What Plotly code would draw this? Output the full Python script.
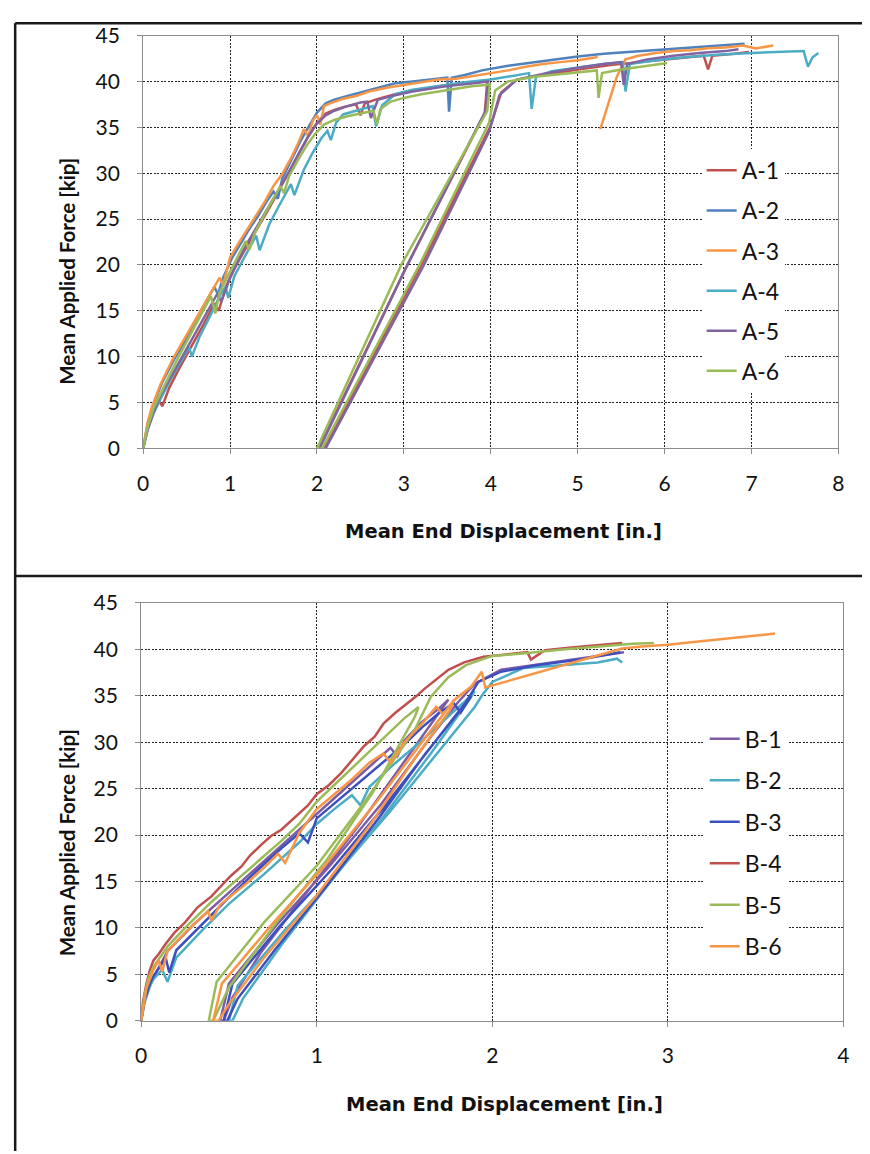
import plotly.graph_objects as go

W, H = 870, 1154

# ---------------- Panel A data ----------------
a1_x = [0, 0.04, 0.1, 0.18, 0.22, 0.3, 0.42, 0.55, 0.7, 0.82, 0.87, 0.95, 1.05, 1.15, 1.25, 1.35, 1.45, 1.55, 1.65, 1.72, 1.8, 1.9, 2.0, 2.1, 2.2, 2.3, 2.45, 2.5, 2.55, 2.7, 2.9, 3.1, 3.3, 3.5, 3.7, 3.85, 3.96, 3.93, 3.04, 2.02, 2.08, 3.2, 4.0, 4.12, 4.3, 4.6, 5.0, 5.4, 5.8, 6.2, 6.45, 6.5, 6.55, 6.8, 6.97]
a1_y = [0, 1.8, 3.8, 5.2, 4.6, 6.6, 8.8, 11.0, 13.6, 15.8, 15.0, 17.6, 19.6, 21.3, 22.9, 24.6, 26.2, 27.9, 29.7, 30.8, 32.3, 34.0, 35.5, 36.5, 36.9, 37.2, 37.5, 36.3, 37.6, 38.1, 38.6, 39.0, 39.3, 39.6, 39.8, 40.0, 40.1, 36.5, 20.0, 0, 0, 20.0, 35.2, 38.8, 40.2, 40.7, 41.3, 41.8, 42.2, 42.6, 42.8, 41.3, 42.8, 43.0, 43.2]

a2_x = [0, 0.05, 0.12, 0.22, 0.35, 0.48, 0.6, 0.72, 0.82, 0.86, 0.92, 1.02, 1.12, 1.22, 1.32, 1.42, 1.5, 1.55, 1.6, 1.7, 1.8, 1.9, 2.0, 2.1, 2.2, 2.35, 2.5, 2.7, 2.9, 3.1, 3.3, 3.5, 3.52, 3.55, 3.7, 3.9, 4.2, 4.5, 4.8, 5.0, 5.3, 5.6, 6.0, 6.3, 6.6, 6.92]
a2_y = [0, 2.6, 4.9, 7.2, 9.6, 11.7, 13.9, 16.0, 17.6, 16.8, 18.6, 20.7, 22.3, 23.9, 25.3, 26.9, 28.0, 27.2, 29.4, 31.4, 33.3, 35.0, 36.6, 37.6, 38.0, 38.4, 38.8, 39.3, 39.8, 40.0, 40.2, 40.4, 36.7, 40.4, 40.7, 41.2, 41.7, 42.1, 42.5, 42.7, 43.0, 43.2, 43.5, 43.7, 43.9, 44.1]

a3_x = [0, 0.05, 0.1, 0.2, 0.35, 0.5, 0.65, 0.8, 0.88, 0.92, 1.0, 1.1, 1.2, 1.3, 1.4, 1.5, 1.6, 1.7, 1.78, 1.85, 1.9, 1.95, 2.0, 2.04, 2.08, 2.15, 2.3, 2.45, 2.6, 2.8, 3.0, 3.2, 3.4, 3.6, 3.8, 4.0, 4.2, 4.4, 4.6, 4.8, 5.0, 5.2, 5.23, None, 5.26, 5.45, 5.55, 5.7, 5.9, 6.1, 6.3, 6.5, 6.7, 6.9, 7.05, 7.25]
a3_y = [0, 2.8, 4.5, 7.0, 9.9, 12.4, 14.9, 17.4, 18.6, 17.8, 20.8, 22.4, 23.9, 25.4, 26.9, 28.6, 29.9, 31.6, 33.2, 34.8, 34.0, 35.7, 36.3, 35.3, 37.3, 37.6, 38.1, 38.4, 38.9, 39.3, 39.6, 39.9, 40.2, 40.3, 40.6, 40.9, 41.2, 41.6, 41.9, 42.1, 42.3, 42.6, 42.7, None, 34.8, 40.5, 42.4, 42.8, 43.1, 43.3, 43.4, 43.6, 43.7, 43.9, 43.6, 43.9]

a4_x = [0, 0.05, 0.12, 0.2, 0.32, 0.45, 0.53, 0.56, 0.65, 0.78, 0.9, 0.95, 0.98, 1.05, 1.15, 1.25, 1.3, 1.34, 1.45, 1.55, 1.65, 1.7, 1.74, 1.85, 1.95, 2.05, 2.12, 2.16, 2.22, 2.3, 2.45, 2.6, 2.64, 2.68, 2.75, 2.9, 3.1, 3.4, 3.7, 4.0, 4.3, 4.44, 4.47, 4.52, 4.7, 5.0, 5.3, 5.52, 5.55, 5.6, 5.9, 6.2, 6.6, 7.0, 7.3, 7.6, 7.65, 7.7, 7.77]
a4_y = [0, 2.0, 3.8, 5.4, 7.6, 9.8, 11.0, 10.0, 12.2, 14.6, 17.0, 17.6, 16.4, 18.8, 20.6, 22.4, 23.2, 21.6, 24.4, 26.2, 28.0, 28.8, 27.6, 30.4, 32.2, 33.8, 34.6, 33.6, 35.5, 36.4, 36.8, 37.2, 37.3, 35.1, 37.4, 38.6, 39.1, 39.5, 39.9, 40.2, 40.7, 40.9, 37.0, 40.5, 41.1, 41.5, 41.9, 42.1, 38.9, 41.9, 42.3, 42.6, 42.9, 43.1, 43.2, 43.3, 41.6, 42.6, 43.1]

a5_x = [0, 0.05, 0.12, 0.2, 0.32, 0.45, 0.6, 0.75, 0.85, 0.9, 1.0, 1.1, 1.2, 1.3, 1.4, 1.5, 1.6, 1.7, 1.8, 1.9, 2.0, 2.1, 2.2, 2.35, 2.5, 2.58, 2.62, 2.7, 2.9, 3.1, 3.3, 3.5, 3.7, 3.9, 3.97, 3.94, 3.02, 2.03, 2.1, 3.22, 3.98, 4.1, 4.3, 4.6, 5.0, 5.3, 5.5, 5.53, 5.57, 5.8, 6.1, 6.4, 6.7, 6.85]
a5_y = [0, 2.0, 4.0, 5.8, 7.8, 10.0, 12.6, 15.2, 16.8, 16.0, 18.6, 20.6, 22.4, 24.0, 25.6, 27.2, 28.8, 30.5, 32.3, 34.0, 35.4, 36.3, 36.8, 37.3, 37.7, 37.8, 36.0, 38.0, 38.5, 38.9, 39.2, 39.5, 39.7, 39.9, 40.0, 36.8, 19.6, 0, 0, 19.8, 34.5, 38.5, 40.2, 40.8, 41.5, 41.9, 42.1, 39.6, 41.9, 42.4, 42.8, 43.1, 43.3, 43.5]

a6_x = [0, 0.05, 0.12, 0.2, 0.3, 0.42, 0.55, 0.68, 0.78, 0.83, 0.88, 0.98, 1.08, 1.18, 1.22, 1.28, 1.38, 1.48, 1.58, 1.62, 1.68, 1.78, 1.88, 1.98, 2.08, 2.2, 2.35, 2.5, 2.65, 2.69, 2.73, 2.85, 3.0, 3.2, 3.4, 3.6, 3.8, 3.95, 3.99, 3.96, 2.97, 2.0, 2.06, 3.18, 3.98, 4.05, 4.2, 4.5, 4.8, 5.1, 5.22, 5.24, 5.28, 5.5, 5.8, 6.03]
a6_y = [0, 2.3, 4.4, 6.0, 7.9, 10.2, 12.5, 14.9, 16.6, 14.7, 17.0, 18.9, 20.8, 22.6, 21.6, 23.4, 25.2, 26.9, 28.6, 27.8, 29.7, 31.4, 33.0, 34.3, 35.3, 35.8, 36.2, 36.5, 36.8, 35.3, 37.0, 37.8, 38.2, 38.6, 38.9, 39.2, 39.5, 39.6, 39.7, 36.8, 20.0, 0, 0, 20.0, 35.5, 39.0, 40.0, 40.5, 40.8, 41.1, 41.2, 38.2, 40.9, 41.3, 41.7, 42.0]

# ---------------- Panel B data ----------------
b1_x = [0, 0.02, 0.05, 0.08, 0.15, 0.3, 0.5, 0.7, 0.9, 1.0, 1.1, 1.2, 1.3, 1.42, 1.46, 1.5, 1.6, 1.7, 1.75, 1.72, 1.5, 1.25, 0.95, 0.68, 0.52, 0.47, 0.45, 0.5, 0.77, 1.07, 1.37, 1.65, 1.8, 1.9, 2.05, 2.2, 2.4, 2.6, 2.75]
b1_y = [0, 2.5, 4.2, 5.0, 7.5, 10.4, 13.8, 17.2, 20.6, 22.3, 23.9, 25.6, 27.4, 29.4, 28.5, 30.2, 32.2, 33.7, 34.6, 33.8, 28.0, 21.3, 14.0, 7.3, 2.5, 0, 0, 4.0, 10.3, 16.6, 23.4, 30.6, 34.2, 36.3, 37.8, 38.2, 38.8, 39.3, 39.7]

b2_x = [0, 0.02, 0.05, 0.07, 0.12, 0.15, 0.2, 0.35, 0.5, 0.7, 0.9, 1.0, 1.1, 1.2, 1.25, 1.3, 1.45, 1.6, 1.75, 1.85, 1.9, 1.87, 1.65, 1.38, 1.08, 0.8, 0.58, 0.52, 0.5, 0.55, 0.82, 1.12, 1.42, 1.72, 1.9, 1.94, 2.0, 2.18, 2.4, 2.6, 2.71, 2.74]
b2_y = [0, 2.0, 3.7, 4.5, 5.5, 4.2, 6.8, 9.8, 12.6, 15.8, 19.2, 21.2, 22.8, 24.3, 23.2, 25.2, 27.8, 30.2, 32.8, 34.5, 35.5, 34.6, 28.8, 22.0, 15.0, 8.2, 2.4, 0, 0, 3.8, 9.8, 16.0, 22.6, 29.6, 33.8, 35.0, 36.5, 38.0, 38.3, 38.6, 39.0, 38.6]

b3_x = [0, 0.02, 0.05, 0.07, 0.14, 0.16, 0.2, 0.35, 0.5, 0.65, 0.8, 0.9, 0.95, 1.0, 1.15, 1.3, 1.4, 1.5, 1.6, 1.7, 1.78, 1.82, 1.88, 1.85, 1.62, 1.36, 1.06, 0.76, 0.55, 0.49, 0.47, 0.52, 0.79, 1.09, 1.39, 1.68, 1.85, 1.92, 2.05, 2.25, 2.5, 2.73]
b3_y = [0, 2.3, 4.0, 4.8, 6.8, 5.2, 7.6, 10.5, 13.3, 16.0, 18.6, 20.2, 19.2, 21.8, 24.2, 26.6, 28.2, 29.8, 31.6, 33.2, 34.2, 33.2, 35.0, 34.2, 28.8, 22.0, 14.6, 7.6, 2.4, 0, 0, 4.0, 10.2, 16.4, 23.2, 30.2, 34.3, 36.5, 37.6, 38.3, 38.9, 39.7]

b4_x = [0, 0.01, 0.03, 0.05, 0.07, 0.1, 0.14, 0.19, 0.25, 0.32, 0.4, 0.46, 0.51, 0.57, 0.62, 0.68, 0.74, 0.8, 0.89, 0.95, 1.0, 1.07, 1.14, 1.2, 1.27, 1.33, 1.38, 1.45, 1.52, 1.57, 1.61, 1.68, 1.75, 1.84, 1.95, 2.05, 2.15, 2.2, 2.22, 2.3, 2.45, 2.6, 2.74]
b4_y = [0, 2.0, 4.0, 5.5, 6.5, 7.2, 8.3, 9.5, 10.6, 12.2, 13.4, 14.6, 15.6, 16.6, 17.8, 18.9, 19.9, 20.6, 22.1, 23.2, 24.4, 25.4, 26.7, 28.0, 29.6, 30.6, 32.0, 33.2, 34.2, 35.0, 35.7, 36.8, 37.8, 38.6, 39.2, 39.4, 39.6, 39.7, 38.9, 39.9, 40.2, 40.5, 40.7]

b5_x = [0, 0.02, 0.04, 0.07, 0.15, 0.25, 0.4, 0.55, 0.7, 0.8, 0.9, 1.0, 1.1, 1.2, 1.3, 1.4, 1.5, 1.58, 1.56, 1.32, 1.06, 0.77, 0.5, 0.41, 0.385, 0.43, 0.7, 1.0, 1.27, 1.56, 1.65, 1.75, 1.85, 2.0, 2.2, 2.4, 2.6, 2.8, 2.92]
b5_y = [0, 2.8, 4.5, 5.8, 8.0, 10.0, 12.8, 15.3, 17.8, 19.4, 21.2, 23.6, 25.4, 27.2, 29.0, 30.8, 32.6, 33.8, 32.8, 24.6, 17.4, 10.6, 3.6, 0, 0, 4.2, 10.6, 16.7, 23.5, 31.4, 34.9, 37.0, 38.3, 39.3, 39.6, 40.0, 40.3, 40.6, 40.7]

b6_x = [0, 0.02, 0.03, 0.07, 0.1, 0.12, 0.15, 0.25, 0.38, 0.4, 0.45, 0.6, 0.7, 0.78, 0.82, 0.9, 1.0, 1.1, 1.2, 1.3, 1.38, 1.42, 1.5, 1.6, 1.68, 1.72, 1.78, 1.76, 1.55, 1.3, 1.0, 0.7, 0.5, 0.44, 0.41, 0.46, 0.75, 1.05, 1.35, 1.62, 1.78, 1.88, 1.94, 1.96, 2.74, 2.85, 3.0, 3.2, 3.4, 3.61]
b6_y = [0, 2.2, 3.5, 5.5, 6.5, 5.3, 7.5, 9.5, 11.8, 10.8, 12.5, 14.8, 16.5, 18.0, 17.0, 20.2, 22.8, 24.4, 26.0, 27.8, 28.8, 27.8, 30.0, 32.0, 33.8, 33.0, 34.5, 33.5, 28.0, 21.0, 13.5, 6.8, 1.8, 0, 0, 4.0, 10.5, 16.8, 23.8, 30.5, 34.5, 36.0, 37.6, 35.9, 40.1, 40.3, 40.5, 40.9, 41.3, 41.7]

a_names = ["A-1", "A-2", "A-3", "A-4", "A-5", "A-6"]
b_names = ["B-1", "B-2", "B-3", "B-4", "B-5", "B-6"]
a_colors = ["#C0504D", "#4F81BD", "#F79646", "#4BACC6", "#8064A2", "#9BBB59"]
b_colors = ["#7D5BA6", "#4BACC6", "#3B4FBF", "#C0504D", "#9BBB59", "#F79646"]
a_data = [(a1_x, a1_y), (a2_x, a2_y), (a3_x, a3_y), (a4_x, a4_y), (a5_x, a5_y), (a6_x, a6_y)]
b_data = [(b1_x, b1_y), (b2_x, b2_y), (b3_x, b3_y), (b4_x, b4_y), (b5_x, b5_y), (b6_x, b6_y)]

x_ticks_a = [0, 1, 2, 3, 4, 5, 6, 7, 8]
x_ticks_b = [0, 1, 2, 3, 4]
y_ticks = [0, 5, 10, 15, 20, 25, 30, 35, 40, 45]

FONT = "Lato"

fig = go.Figure()
for name, col, (xs, ys) in zip(a_names, a_colors, a_data):
    fig.add_trace(go.Scatter(x=xs, y=ys, mode="lines", name=name,
                             line=dict(color=col, width=2.5),
                             xaxis="x", yaxis="y", legend="legend", legendgroup=name))
for name, col, (xs, ys) in zip(b_names, b_colors, b_data):
    fig.add_trace(go.Scatter(x=xs, y=ys, mode="lines", name=name,
                             line=dict(color=col, width=2.5),
                             xaxis="x2", yaxis="y2", legend="legend2", legendgroup=name))


# map a target position in the photographed page to figure (paper) coordinates
def fx(p):
    return (p - 6.4) / 0.983 - 8


def fy(p):
    return (p - 12.6) / 0.981 - 8


def px_x(p):
    return fx(p) / W


def px_y(p):
    return 1 - fy(p) / H


axis_common = dict(showgrid=True, gridcolor="#222222", griddash="2px,1.5px", gridwidth=1,
                   showline=True, linecolor="#8c8c8c", linewidth=1, mirror=True,
                   ticks="outside", ticklen=5, tickcolor="#8c8c8c", zeroline=False,
                   tickfont=dict(family=FONT, size=21, color="#111111"))

legend_font = dict(family=FONT, size=23, color="#111111")
fig.update_layout(
    width=W, height=H, margin=dict(l=0, r=0, t=0, b=0),
    paper_bgcolor="white", plot_bgcolor="white",
    xaxis=dict(domain=[px_x(143), px_x(836)], range=[0, 8], tickvals=x_ticks_a, anchor="y",
               ticklabelstandoff=11, **axis_common),
    yaxis=dict(domain=[px_y(448), px_y(34)], range=[0, 45], tickvals=y_ticks, anchor="x",
               ticklabelstandoff=13, **axis_common),
    xaxis2=dict(domain=[px_x(141), px_x(841)], range=[0, 4], tickvals=x_ticks_b, anchor="y2",
                ticklabelstandoff=11, **axis_common),
    yaxis2=dict(domain=[px_y(1022), px_y(603)], range=[0, 45], tickvals=y_ticks, anchor="x2",
                ticklabelstandoff=13, **axis_common),
    legend=dict(x=697.3 / W, y=1 - 129.7 / H, xanchor="left", yanchor="top",
                bgcolor="white", font=legend_font, tracegroupgap=7.2, itemwidth=30),
    legend2=dict(x=700.4 / W, y=1 - 710.8 / H, xanchor="left", yanchor="top",
                 bgcolor="white", font=legend_font, tracegroupgap=8.6, itemwidth=30),
    showlegend=True,
)

xtitle_font = dict(family="DejaVu Sans", size=19.5, color="#111111")
ytitle_font = dict(family=FONT, size=20.5, color="#111111")
annos = [
    dict(text="<b>Mean End Displacement [in.]</b>", x=px_x(502), y=px_y(531), font=xtitle_font),
    dict(text="<b>Mean Applied Force [kip]</b>", x=px_x(67), y=px_y(270), textangle=-90, font=ytitle_font),
    dict(text="<b>Mean End Displacement [in.]</b>", x=px_x(503), y=px_y(1106), font=xtitle_font),
    dict(text="<b>Mean Applied Force [kip]</b>", x=px_x(67), y=px_y(843), textangle=-90, font=ytitle_font),
]
for a in annos:
    fig.add_annotation(xref="paper", yref="paper", showarrow=False, xanchor="center",
                       yanchor="middle", **a)

frame = dict(color="#1a1a1a", width=2.5)
e = 1.2
fig.add_shape(type="line", xref="paper", yref="paper", x0=e / W, x1=e / W, y0=1 - e / H, y1=0, line=frame)
fig.add_shape(type="line", xref="paper", yref="paper", x0=e / W, x1=px_x(862), y0=1 - e / H, y1=1 - e / H, line=frame)
fig.add_shape(type="line", xref="paper", yref="paper", x0=e / W, x1=1, y0=px_y(576), y1=px_y(576), line=frame)

fig.write_html("out.html")
